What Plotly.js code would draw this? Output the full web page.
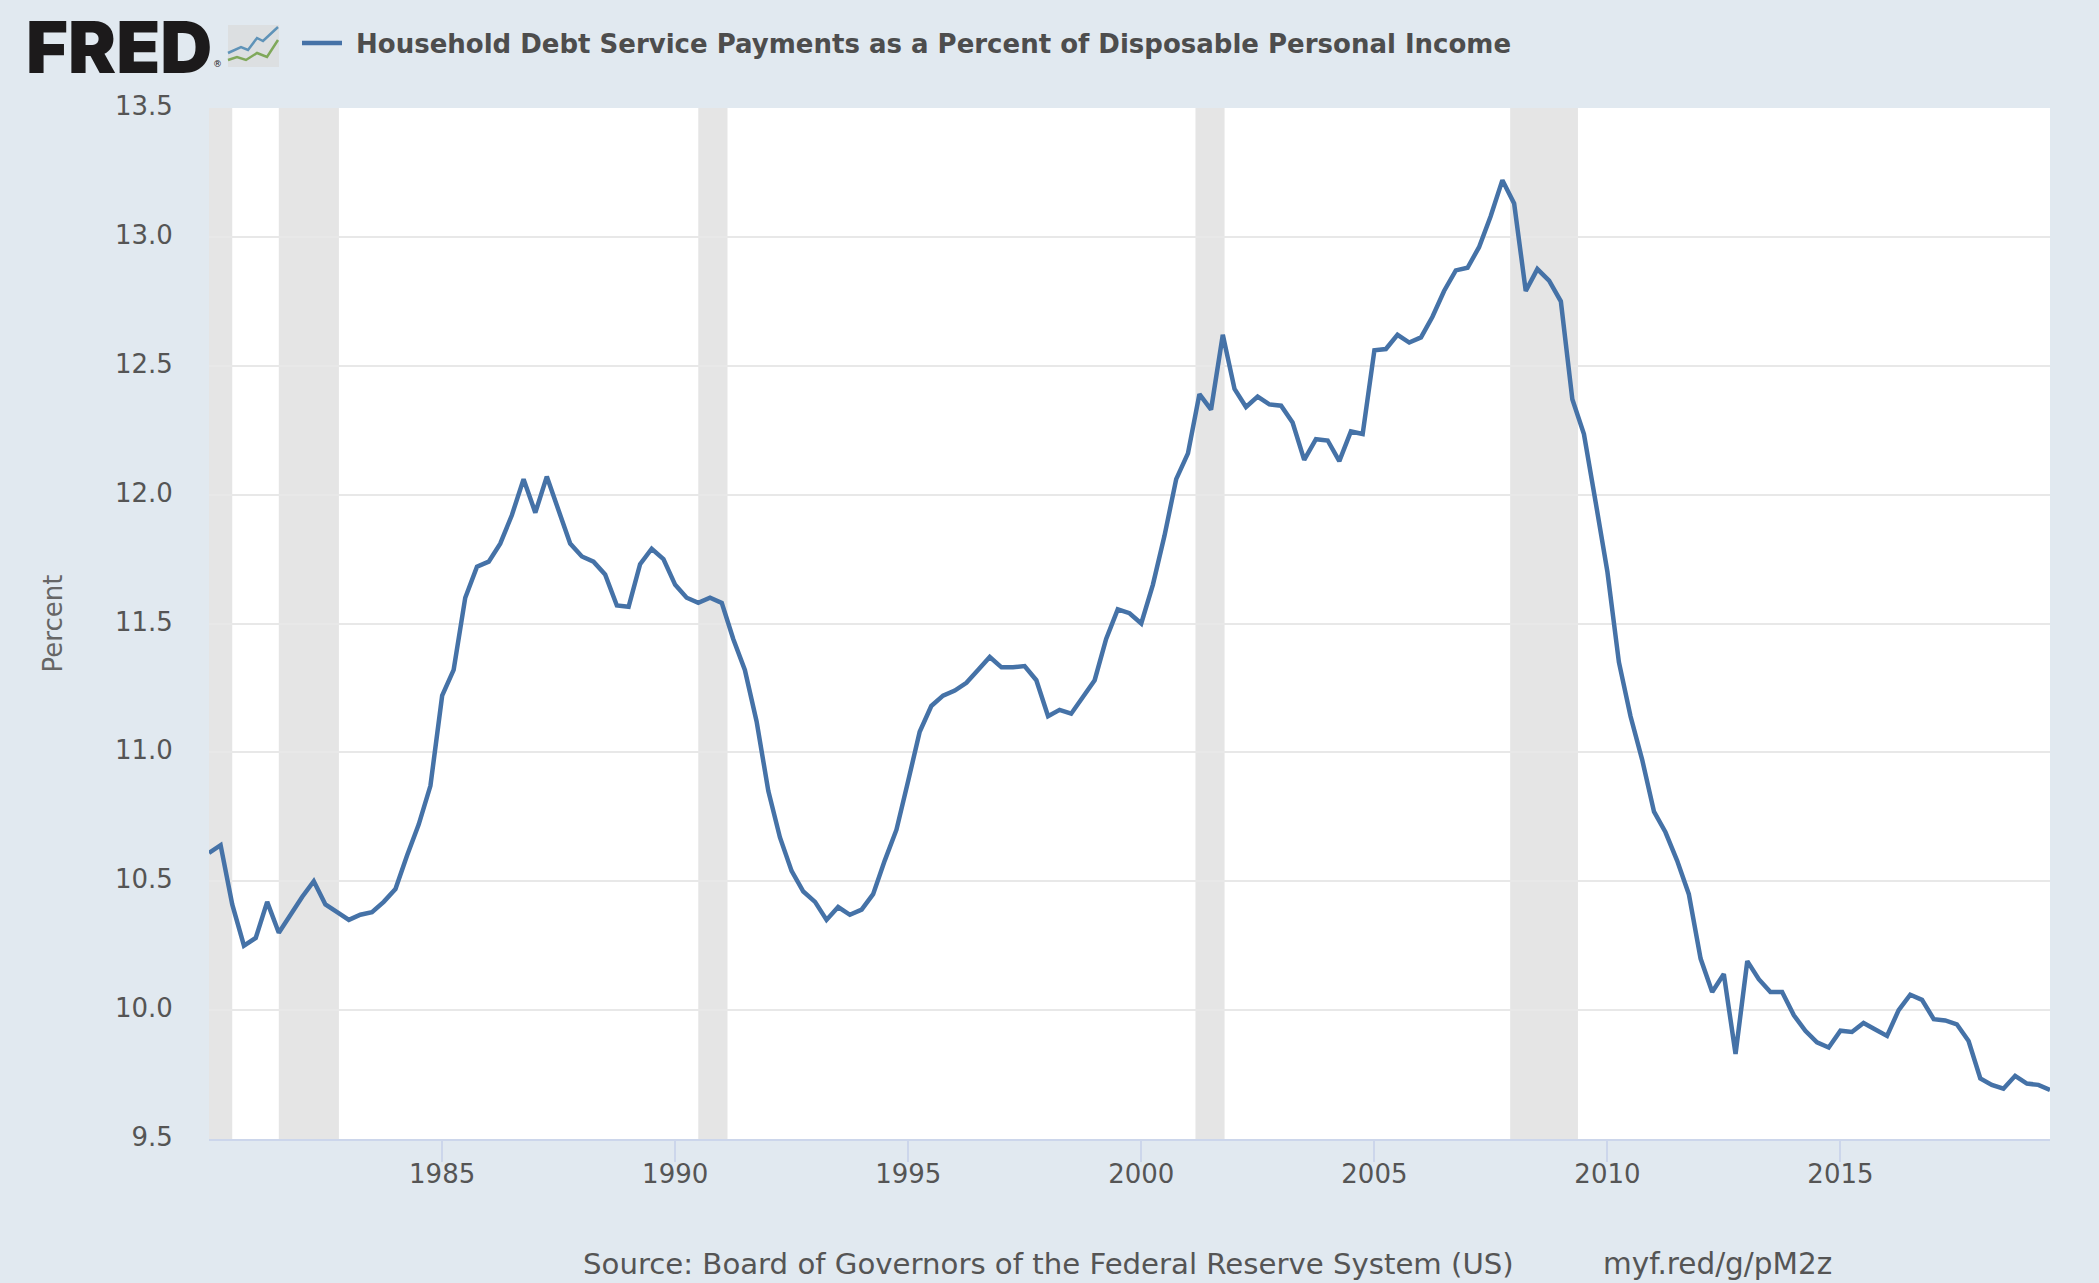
<!DOCTYPE html>
<html>
<head>
<meta charset="utf-8">
<script src="https://cdn.plot.ly/plotly-3.0.1.min.js"></script>
<style>html,body{margin:0;padding:0;background:#e1e9f0;overflow:hidden}</style>
</head>
<body>
<div id="chart" style="width:2099px;height:1283px"></div>
<script>
const seriesName = "\u00a0Household Debt Service Payments as a Percent of Disposable Personal Income";
const firstYear = 1980;
const debtService = [
  10.61,10.64,10.41,10.25,
  10.28,10.42,10.30,10.37,
  10.44,10.50,10.41,10.38,
  10.35,10.37,10.38,10.42,
  10.47,10.60,10.72,10.87,
  11.22,11.32,11.60,11.72,
  11.74,11.81,11.92,12.06,
  11.93,12.07,11.94,11.81,
  11.76,11.74,11.69,11.57,
  11.565,11.73,11.79,11.75,
  11.65,11.60,11.58,11.60,
  11.58,11.44,11.32,11.12,
  10.85,10.67,10.54,10.46,
  10.42,10.35,10.40,10.37,
  10.39,10.45,10.58,10.70,
  10.89,11.08,11.18,11.22,
  11.24,11.27,11.32,11.37,
  11.33,11.33,11.335,11.28,
  11.14,11.165,11.15,11.215,
  11.28,11.44,11.555,11.54,
  11.50,11.65,11.84,12.06,
  12.16,12.39,12.33,12.62,
  12.41,12.34,12.38,12.35,
  12.345,12.28,12.135,12.215,
  12.21,12.13,12.245,12.235,
  12.56,12.565,12.62,12.59,
  12.61,12.69,12.79,12.87,
  12.88,12.96,13.08,13.22,
  13.13,12.79,12.875,12.83,
  12.75,12.37,12.235,11.97,
  11.70,11.35,11.14,10.97,
  10.77,10.69,10.58,10.45,
  10.20,10.07,10.14,9.83,
  10.19,10.12,10.07,10.07,
  9.98,9.92,9.875,9.855,
  9.92,9.915,9.95,9.925,
  9.90,10.00,10.06,10.04,
  9.965,9.96,9.945,9.88,
  9.735,9.71,9.695,9.745,
  9.715,9.71,9.69
];
const recessionStarts = ["1980-01-01","1981-07-01","1990-07-01","2001-03-01","2007-12-01"];
const recessionEnds   = ["1980-07-01","1982-10-15","1991-02-15","2001-10-15","2009-05-15"];
const tickDates = ["1985-01-01","1990-01-01","1995-01-01","2000-01-01","2005-01-01","2010-01-01","2015-01-01"];
const tickLabels = ["1985","1990","1995","2000","2005","2010","2015"];
const quarters = debtService.map((_, i) => {
  const y = firstYear + Math.floor(i / 4);
  const m = String(i % 4 * 3 + 1).padStart(2, "0");
  return y + "-" + m + "-01";
});

const W = 2099, H = 1283, L = 209, R = 49, T = 108, B = 144;
const px = x => (x - L) / (W - L - R);
const py = y => 1 - (y - T) / (H - T - B);
const FONT = "DejaVu Sans";
const path = pts => pts.map((p, i) => (i ? "L" : "M") + px(p[0]) + "," + py(p[1])).join(" ");

const recessionShapes = recessionStarts.map((s, i) => ({
  type: "rect", layer: "below", xref: "x", yref: "paper",
  x0: s, x1: recessionEnds[i], y0: 0, y1: 1,
  fillcolor: "#e5e5e5", line: {width: 0}
}));
const iconShapes = [
  {type: "rect", xref: "paper", yref: "paper", x0: px(228), x1: px(279), y0: py(25), y1: py(67), fillcolor: "#dcdfe1", line: {width: 0}},
  {type: "path", xref: "paper", yref: "paper", path: path([[228,53],[241,47],[248,50],[257,38],[263,41],[278,27]]), line: {color: "#5f93b8", width: 2.5}},
  {type: "path", xref: "paper", yref: "paper", path: path([[228,60],[237,57],[246,60],[257,53],[267,57],[278,40]]), line: {color: "#7fa85a", width: 2.5}}
];
const note = (text, xPx, yPx, size, color, anchor, font) => ({
  text, xref: "paper", yref: "paper", x: px(xPx), y: py(yPx), showarrow: false,
  xanchor: anchor || "left", yanchor: "middle",
  font: Object.assign({family: FONT, size, color}, font || {})
});

Plotly.newPlot("chart", [{
  x: quarters, y: debtService, name: seriesName, type: "scatter", mode: "lines",
  line: {color: "#4572a7", width: 4.5}, hoverinfo: "x+y"
}], {
  width: W, height: H,
  paper_bgcolor: "#e1e9f0", plot_bgcolor: "#ffffff",
  margin: {l: L, r: R, t: T, b: B, pad: 0},
  showlegend: true,
  legend: {
    orientation: "h", x: px(297), y: py(43), xanchor: "left", yanchor: "middle",
    bgcolor: "rgba(0,0,0,0)", itemwidth: 40, itemclick: false,
    font: {family: FONT, size: 26, color: "#4d4d4d", weight: "bold"}
  },
  xaxis: {
    type: "date", range: ["1980-01-01", "2019-07-01"], tickmode: "array",
    tickvals: tickDates, ticktext: tickLabels,
    showgrid: false, zeroline: false, showline: true,
    linecolor: "#ccd6eb", linewidth: 2, ticks: "outside", ticklen: 21, tickwidth: 1.5, tickcolor: "#ccd6eb",
    tickfont: {family: FONT, size: 26, color: "#555555"}, ticklabelstandoff: -10
  },
  yaxis: {
    range: [9.5, 13.5], dtick: 0.5, tick0: 9.5, tickformat: ".1f",
    showgrid: true, gridcolor: "#e8e8e8", gridwidth: 1.5, zeroline: false, showline: false,
    ticks: "outside", ticklen: 30, tickcolor: "rgba(0,0,0,0)",
    tickfont: {family: FONT, size: 26, color: "#555555"}, ticklabelshift: -2,
    title: {text: "Percent", font: {family: FONT, size: 26, color: "#666666"}, standoff: 44}
  },
  shapes: recessionShapes.concat(iconShapes),
  annotations: [
    note("FRED", 24, 46, 72, "#1c1a1b", "left", {family: "Inter", weight: 900}),
    note("®", 211, 64, 9, "#1c1a1b"),
    note("Source: Board of Governors of the Federal Reserve System (US)", 581, 1264, 29.2, "#555555"),
    note("myf.red/g/pM2z", 1601, 1264, 29.5, "#555555")
  ]
}, {displayModeBar: false});
</script>
</body>
</html>
